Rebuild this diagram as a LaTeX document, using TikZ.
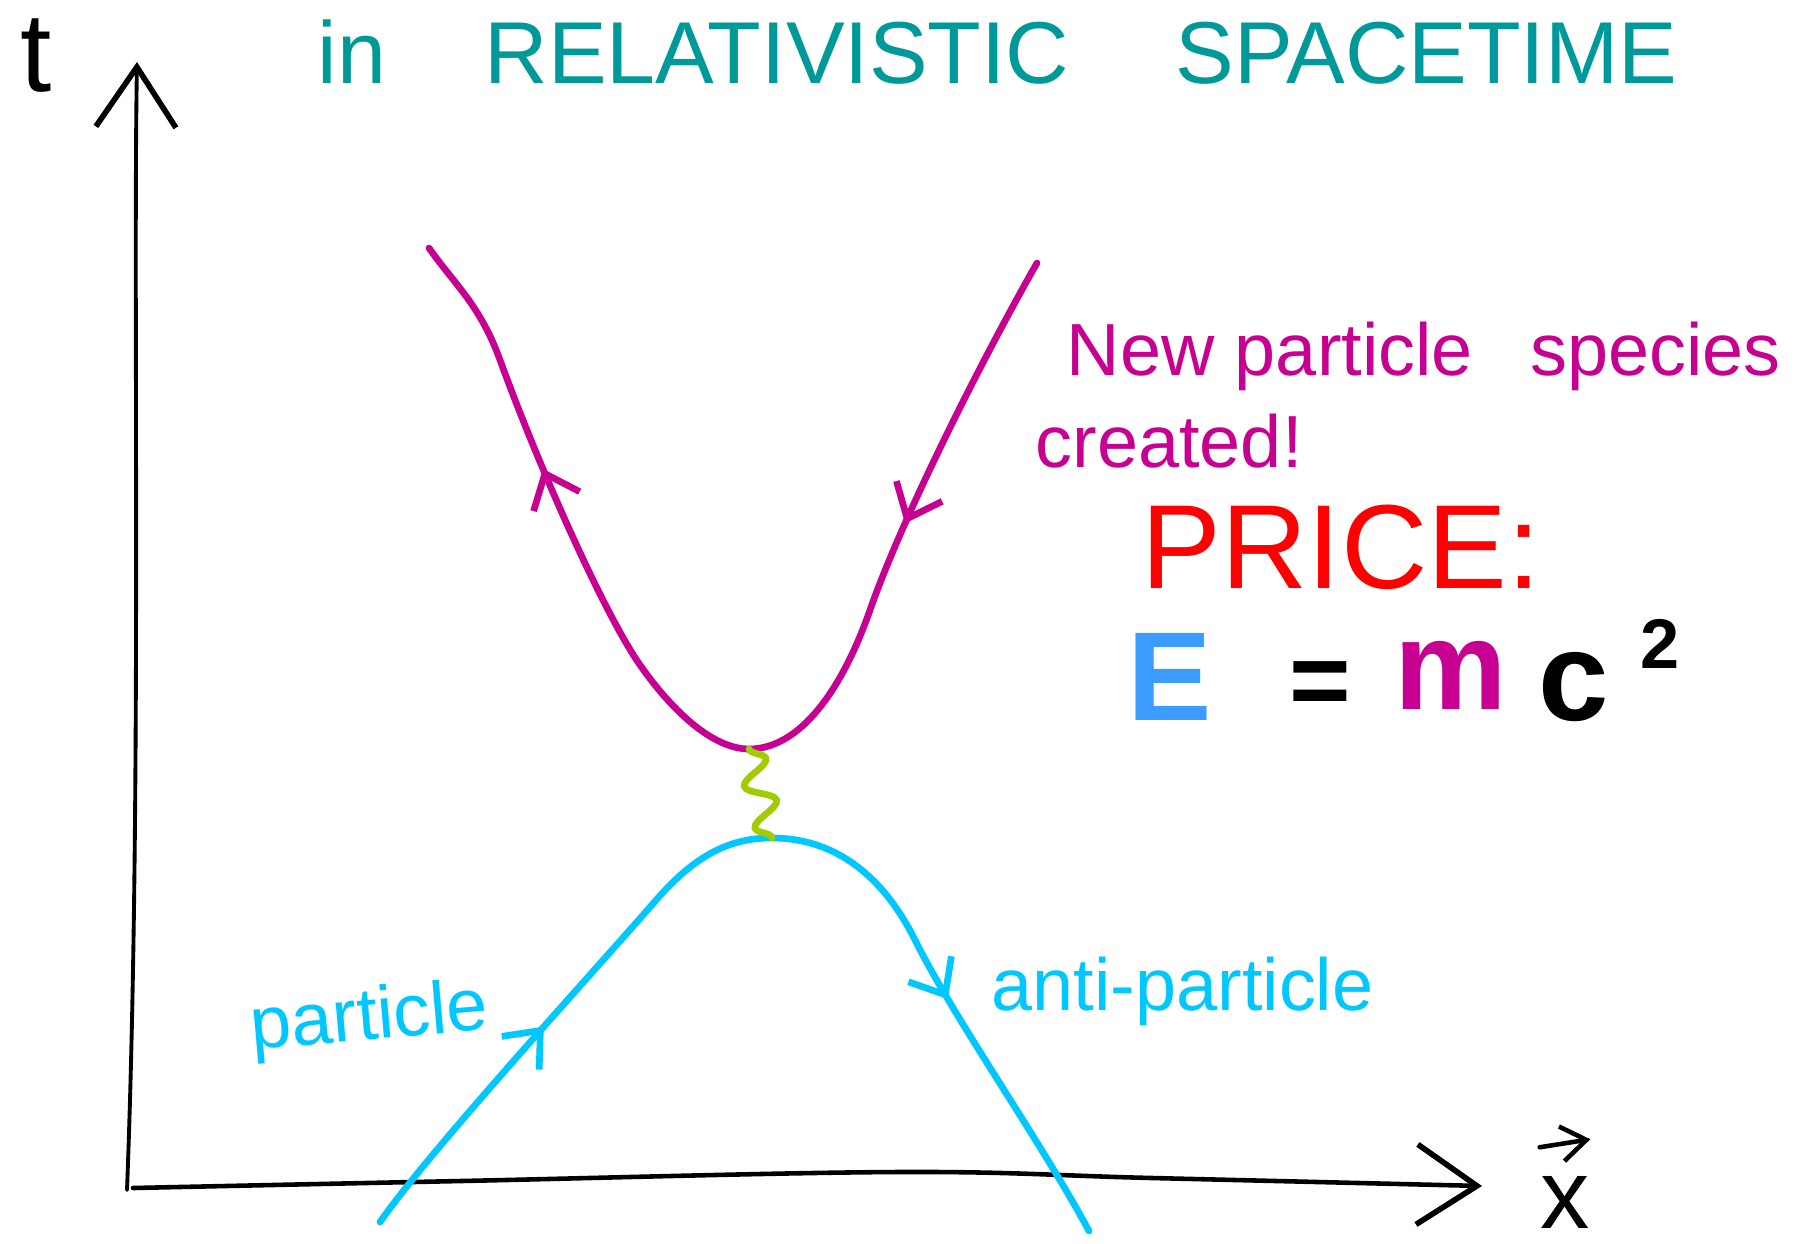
\documentclass[tikz,border=0pt]{standalone}
\usepackage{fontspec}
\setmainfont{Liberation Sans}
\usetikzlibrary{arrows.meta, decorations.markings, decorations.pathmorphing}
\definecolor{inkteal}{RGB}{0,153,153}
\definecolor{inkmagenta}{RGB}{200,0,145}
\definecolor{inkcyan}{RGB}{0,200,255}
\definecolor{inkgreen}{RGB}{160,204,0}
\definecolor{inkred}{RGB}{255,0,0}
\definecolor{inkblue}{RGB}{60,155,255}

\begin{document}
\begin{tikzpicture}[x=0.01cm, y=-0.01cm,
  axis/.style={line width=1.3pt, line cap=round, black},
  axistip/.style={-{Straight Barb[length=0.6cm, width=0.8cm, line width=1.6pt]}},
  worldline/.style={line width=1.9pt, line cap=round},
  tips/.style 2 args={postaction={decorate}, decoration={markings,
      mark=at position #1 with {\arrow{Straight Barb[length=0.3cm, width=0.5cm]}},
      mark=at position #2 with {\arrow{Straight Barb[length=0.3cm, width=0.5cm]}}}},
  photon/.style={inkgreen, line width=1.9pt, line cap=round, decorate,
      decoration={snake, amplitude=0.14cm, segment length=0.43cm}},
  title/.style={inkteal, font=\fontsize{25}{25}\selectfont, anchor=base west, inner sep=0pt},
  note/.style={font=\fontsize{21}{21}\selectfont, anchor=base west, inner sep=0pt},
  eq/.style={font=\fontsize{36}{36}\selectfont\bfseries, anchor=base west, inner sep=0pt}
]
  \useasboundingbox (0,0) rectangle (1807,1243);

  \coordinate (origin) at (127,1190);
  \coordinate (ttip)   at (137,62);
  \coordinate (xstart) at (133,1188);
  \coordinate (xtip)   at (1482,1186);
  \coordinate (mvertex) at (749,749);
  \coordinate (cvertex) at (772,838);

  \draw[axis, line width=1.1pt, axistip] (origin) .. controls (142,800) and (133,300) .. (ttip);
  \draw[axis, axistip] plot[smooth, tension=0.6] coordinates
    {(xstart) (461,1181) (899,1172) (1152,1178) (xtip)};

  \node[font=\fontsize{32}{32}\selectfont, inner sep=0pt] (tlab) at (36,56) {t};
  \node[font=\fontsize{28}{28}\selectfont, anchor=base, inner sep=0pt] (xlab) at (1565,1228) {x};
  \draw[line width=1.3pt, line cap=round, -{Straight Barb[length=0.25cm, width=0.35cm]}]
    ([yshift=0.28cm]xlab.north west) -- ([yshift=0.36cm]xlab.north east);

  \node[title] (tin)  at (317,84)  {in};
  \node[title] (trel) at (484,84)  {RELATIVISTIC};
  \node[title] (tspa) at (1175,84) {SPACETIME};

  \draw[worldline, inkmagenta, tips={0.245}{0.79}] (1037,263)
    .. controls (990,345) and (905,510) .. (870,610)
    .. controls (842,690) and (800,749) .. (mvertex)
    .. controls (715,749) and (675,715) .. (640,665)
    .. controls (605,615) and (540,470) .. (500,360)
    .. controls (480,305) and (455,285) .. (429,248);

  \draw[worldline, inkcyan, tips={0.235}{0.75}] (380,1222)
    .. controls (430,1150) and (600,965) .. (657,899)
    .. controls (700,850) and (735,838) .. (cvertex)
    .. controls (830,838) and (880,870) .. (915,940)
    .. controls (955,1020) and (1040,1140) .. (1089,1231);

  \draw[photon] (mvertex) -- (cvertex);

  \node[note, inkmagenta] (newsp) at (1066,375) {New particle\hspace{0.5em} species};
  \node[note, inkmagenta] (creat) at (1035,467) {created!};
  \node[note, inkcyan, rotate=5] (part) at (252,1050) {particle};
  \node[note, inkcyan] (anti) at (991,1010) {anti-particle};

  \node[font=\fontsize{34}{34}\selectfont, inkred, anchor=base west, inner sep=0pt] (price) at (1141,588) {PRICE:};
  \node[eq, inkblue] (eE) at (1127,720) {E};
  \node[eq, font=\fontsize{30}{30}\selectfont\bfseries, anchor=center] (eeq) at (1320,689) {=};
  \node[eq, inkmagenta] (em) at (1394,709) {m};
  \node[eq] (ec) at (1538,720) {c};
  \node[eq, font=\fontsize{20}{20}\selectfont\bfseries] (etwo) at (1640,668) {2};
\end{tikzpicture}
\end{document}
